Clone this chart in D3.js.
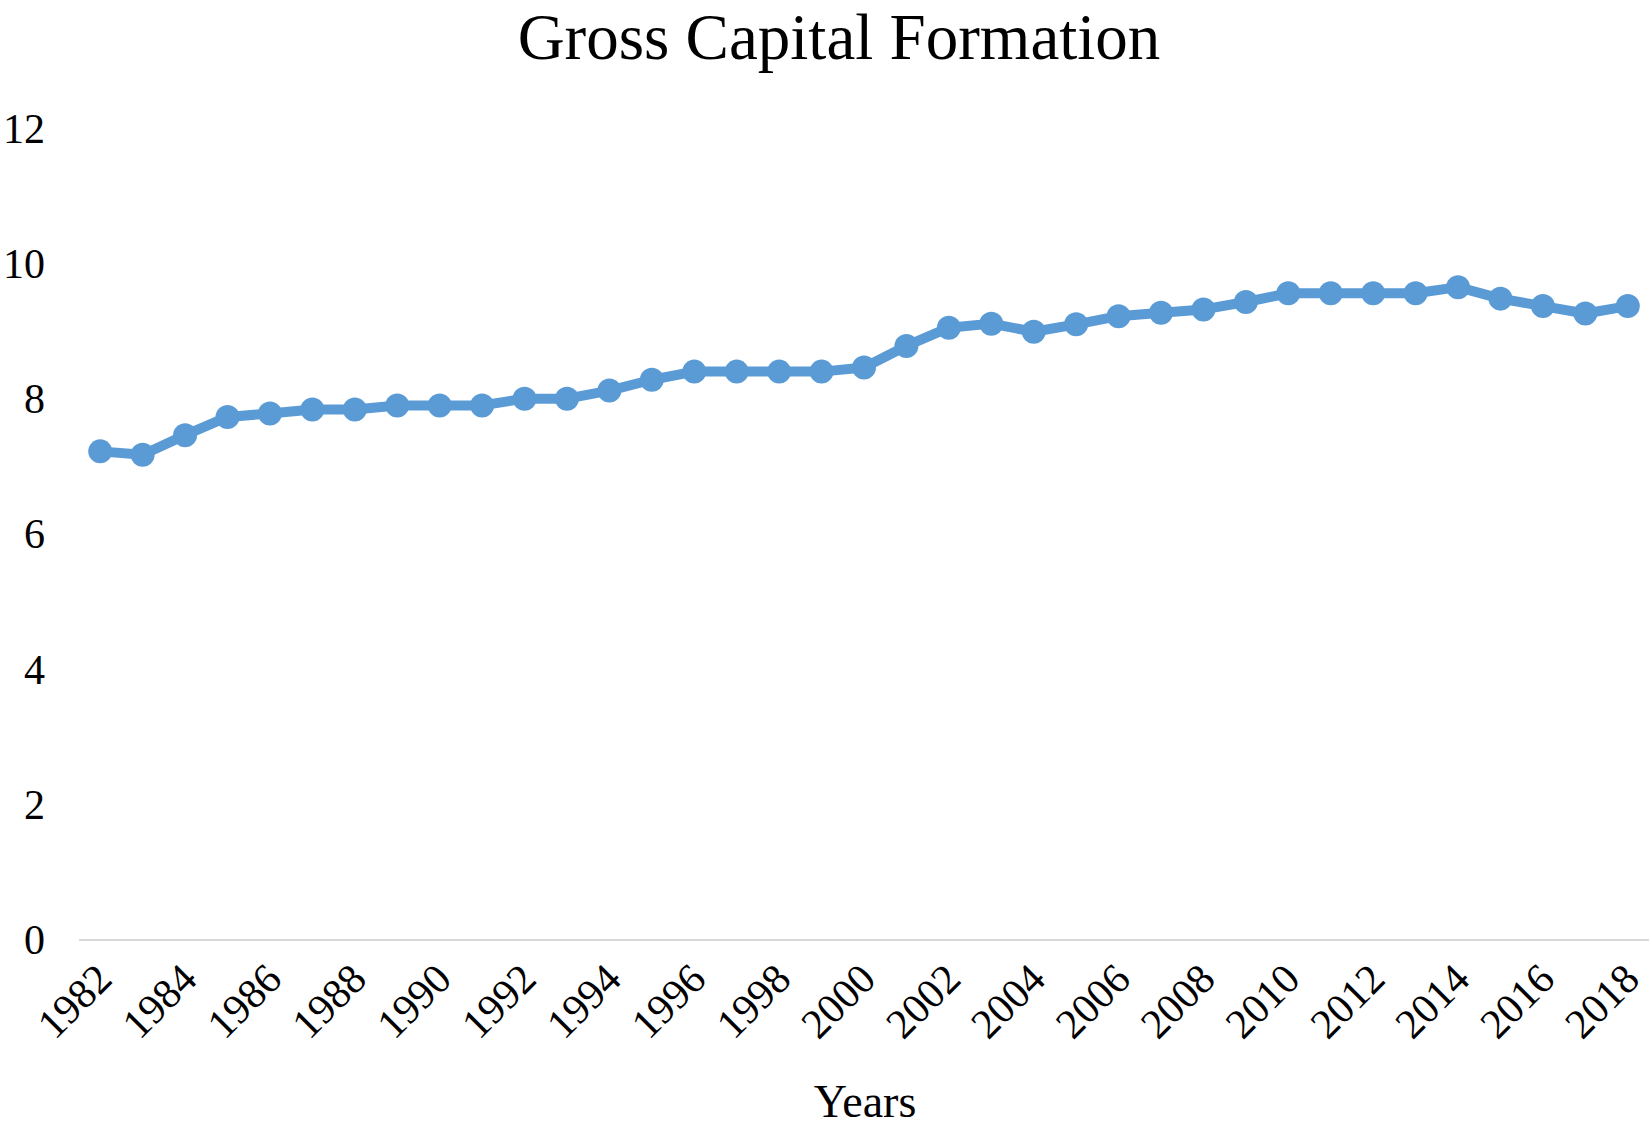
<!DOCTYPE html>
<html>
<head>
<meta charset="utf-8">
<script src="https://cdn.jsdelivr.net/npm/d3@7"></script>
<style>
  html, body { margin: 0; padding: 0; background: #fff; }
  svg { display: block; }
  text { font-family: "Liberation Serif", "Times New Roman", serif; fill: #000; }
</style>
</head>
<body>
<svg id="chart" width="1652" height="1129"></svg>
<script>
// data
const years = d3.range(1982, 2019).map(String);
const values = [
  7.23, 7.18, 7.47, 7.74, 7.79, 7.85, 7.85, 7.91, 7.91, 7.91,
  8.01, 8.01, 8.13, 8.29, 8.41, 8.41, 8.41, 8.41, 8.47, 8.79,
  9.06, 9.12, 9.00, 9.11, 9.23, 9.28, 9.33, 9.44, 9.57, 9.57,
  9.57, 9.57, 9.66, 9.49, 9.38, 9.27, 9.38
];
const yTicks = [0, 2, 4, 6, 8, 10, 12];
const xTickLabels = years.filter((d, i) => i % 2 === 0);

const svg = d3.select("#chart");
const lineColor = "#5b9bd5";

const x = d3.scalePoint()
  .domain(years)
  .range([79, 1649])
  .padding(0.5);

const y = d3.scaleLinear()
  .domain([0, 12])
  .range([940, 129]);

// title
svg.append("text")
  .attr("x", 839)
  .attr("y", 59)
  .attr("text-anchor", "middle")
  .style("font-size", "65px")
  .text("Gross Capital Formation");

// baseline at zero
svg.append("line")
  .attr("x1", 79).attr("x2", 1649)
  .attr("y1", y(0)).attr("y2", y(0))
  .attr("stroke", "#d9d9d9")
  .attr("stroke-width", 2);

// y axis labels
const yAxis = d3.axisLeft(y).tickValues(yTicks).tickSize(0).tickPadding(0);
const gy = svg.append("g")
  .attr("transform", "translate(45,0)")
  .call(yAxis);
gy.select(".domain").remove();
gy.selectAll("text")
  .style("font-size", "42px")
  .style("font-family", "Liberation Serif, serif")
  .attr("fill", "#000");

// x axis labels, rotated
const xAxis = d3.axisBottom(x).tickValues(xTickLabels).tickSize(0);
const gx = svg.append("g")
  .attr("transform", `translate(0,${y(0)})`)
  .call(xAxis);
gx.select(".domain").remove();
gx.selectAll("text")
  .style("font-size", "42px")
  .style("font-family", "Liberation Serif, serif")
  .attr("fill", "#000")
  .attr("x", 0)
  .attr("y", 0)
  .attr("dy", "0.35em")
  .attr("text-anchor", "end")
  .attr("transform", "translate(3,31) rotate(-45)");

// axis title
svg.append("text")
  .attr("x", 865)
  .attr("y", 1117)
  .attr("text-anchor", "middle")
  .style("font-size", "46px")
  .text("Years");

// series
const line = d3.line()
  .x((d, i) => x(years[i]))
  .y(d => y(d));

svg.append("path")
  .datum(values)
  .attr("fill", "none")
  .attr("stroke", lineColor)
  .attr("stroke-width", 10)
  .attr("stroke-linejoin", "round")
  .attr("d", line);

svg.selectAll("circle.pt")
  .data(values)
  .enter()
  .append("circle")
  .attr("class", "pt")
  .attr("cx", (d, i) => x(years[i]))
  .attr("cy", d => y(d))
  .attr("r", 12)
  .attr("fill", lineColor);
</script>
</body>
</html>
